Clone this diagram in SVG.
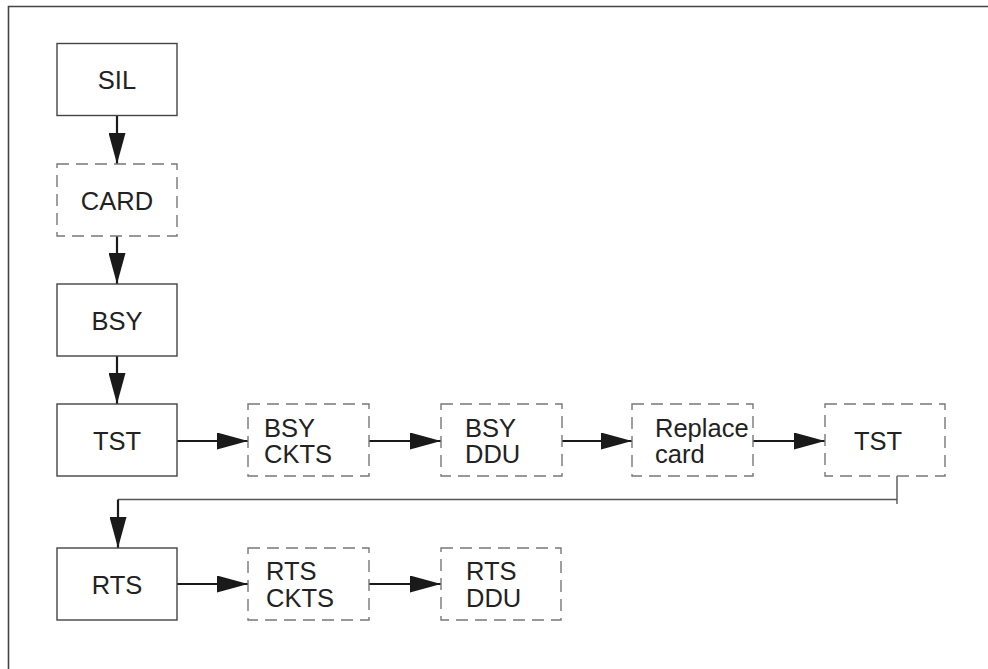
<svg xmlns="http://www.w3.org/2000/svg" width="988" height="669" viewBox="0 0 988 669">
  <style>
    .solid { fill: #fff; stroke: #444; stroke-width: 1.4; }
    .dash { fill: #fff; stroke: #777; stroke-width: 1.4; stroke-dasharray: 12 7; }
    .lbl { font-family: "Liberation Sans", Arial, sans-serif; font-size: 25.5px; fill: #222; }
    .mid { text-anchor: middle; }
    .wire { fill: none; stroke: #1a1a1a; stroke-width: 2.2; }
    .thin { fill: none; stroke: #555; stroke-width: 1.4; }
  </style>
  <defs>
    <marker id="head" viewBox="0 0 31 17" refX="31" refY="8.5" markerWidth="31" markerHeight="17" markerUnits="userSpaceOnUse" orient="auto">
      <path d="M0,0 L31,8.5 L0,17 Z" fill="#1a1a1a"/>
    </marker>
  </defs>
  <rect width="988" height="669" fill="#fff"/>
  <!-- outer frame, open at right and bottom edges -->
  <path d="M8.5,680 V6.5 H1000" fill="none" stroke="#444" stroke-width="1.6"/>

  <g id="connectors">
    <line class="wire" x1="117" y1="116" x2="117" y2="164" marker-end="url(#head)"/>
    <line class="wire" x1="117" y1="236" x2="117" y2="284" marker-end="url(#head)"/>
    <line class="wire" x1="117" y1="356" x2="117" y2="404" marker-end="url(#head)"/>
    <line class="wire" x1="177" y1="441" x2="248" y2="441" marker-end="url(#head)"/>
    <line class="wire" x1="369" y1="441" x2="441" y2="441" marker-end="url(#head)"/>
    <line class="wire" x1="562" y1="441" x2="632" y2="441" marker-end="url(#head)"/>
    <line class="wire" x1="753" y1="441" x2="825" y2="441" marker-end="url(#head)"/>
    <path class="thin" d="M897,476 V504 M897,499.5 H118"/>
    <line class="wire" x1="118" y1="499.5" x2="118" y2="548" marker-end="url(#head)"/>
    <line class="wire" x1="177" y1="584" x2="248" y2="584" marker-end="url(#head)"/>
    <line class="wire" x1="369" y1="584" x2="441" y2="584" marker-end="url(#head)"/>
  </g>

  <g id="sil">
    <rect class="solid" x="57" y="43.5" width="120" height="72"/>
    <text class="lbl mid" x="117" y="89">SIL</text>
  </g>
  <g id="card">
    <rect class="dash" x="57" y="164" width="120" height="72"/>
    <text class="lbl mid" x="117" y="209.5">CARD</text>
  </g>
  <g id="bsy">
    <rect class="solid" x="57" y="284" width="120" height="72"/>
    <text class="lbl mid" x="117" y="329.5">BSY</text>
  </g>
  <g id="tst">
    <rect class="solid" x="57" y="404" width="120" height="72"/>
    <text class="lbl mid" x="117" y="449.5">TST</text>
  </g>
  <g id="bsy-ckts">
    <rect class="dash" x="248" y="404" width="121" height="72"/>
    <text class="lbl" x="264" y="436.5">BSY</text>
    <text class="lbl" x="264" y="463">CKTS</text>
  </g>
  <g id="bsy-ddu">
    <rect class="dash" x="441" y="404" width="121" height="72"/>
    <text class="lbl" x="465" y="436.5">BSY</text>
    <text class="lbl" x="465" y="463">DDU</text>
  </g>
  <g id="replace-card">
    <rect class="dash" x="632" y="404" width="121" height="72"/>
    <text class="lbl" x="655" y="436.5">Replace</text>
    <text class="lbl" x="655" y="463">card</text>
  </g>
  <g id="tst-2">
    <rect class="dash" x="825" y="404" width="120" height="72"/>
    <text class="lbl mid" x="878" y="449.5">TST</text>
  </g>
  <g id="rts">
    <rect class="solid" x="57" y="548" width="120" height="72"/>
    <text class="lbl mid" x="117" y="593.5">RTS</text>
  </g>
  <g id="rts-ckts">
    <rect class="dash" x="248" y="548" width="121" height="72"/>
    <text class="lbl" x="266" y="580">RTS</text>
    <text class="lbl" x="266" y="606.5">CKTS</text>
  </g>
  <g id="rts-ddu">
    <rect class="dash" x="441" y="548" width="120" height="72"/>
    <text class="lbl" x="466" y="580">RTS</text>
    <text class="lbl" x="466" y="606.5">DDU</text>
  </g>
</svg>
